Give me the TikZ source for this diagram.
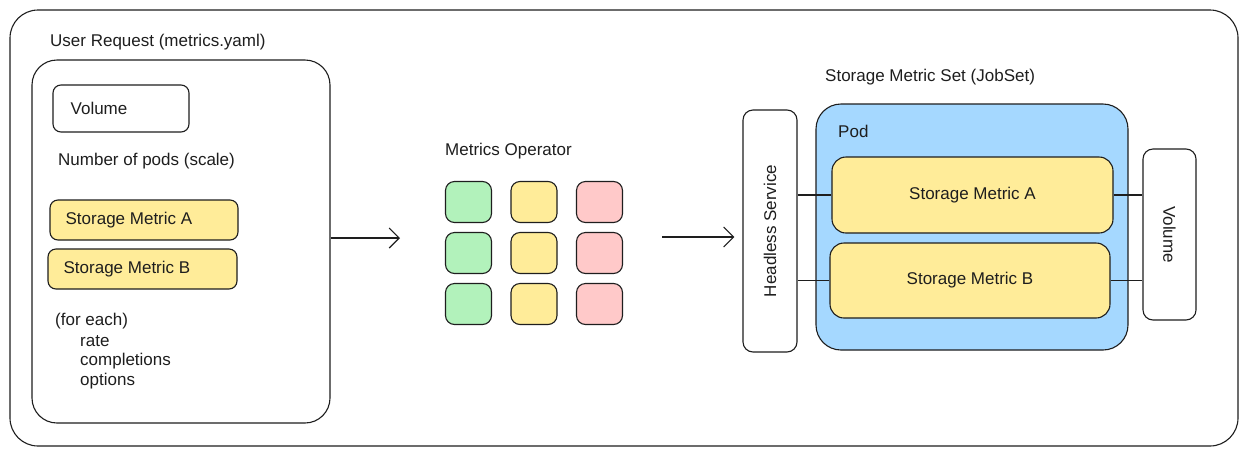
\documentclass[tikz,border=0pt]{standalone}
\usepackage{fontspec}
\setmainfont{Liberation Sans}
\usepackage{xcolor}
\usetikzlibrary{positioning, arrows.meta}
\definecolor{inkline}{HTML}{1E1E1E}
\definecolor{metricyellow}{HTML}{FFEC99}
\definecolor{opgreen}{HTML}{B2F2BB}
\definecolor{opred}{HTML}{FFC9C9}
\definecolor{podblue}{HTML}{A5D8FF}

\begin{document}
\begin{tikzpicture}[
		x=1pt, y=-1pt,
		font=\fontsize{17}{20}\selectfont,
		% Styles
		box/.style={rectangle, draw=inkline, line width=1.1pt, fill=white, rounded corners=8pt, inner sep=0pt, text=inkline},
		frame/.style={box, rounded corners=28pt},
		metric/.style={box, fill=metricyellow},
		cell/.style={box, minimum width=46pt, minimum height=41pt, rounded corners=9pt},
		label/.style={anchor=west, inner sep=0pt, text=inkline},
		arrow/.style={-{Straight Barb[length=10pt, width=20pt]}, draw=inkline, line width=1.1pt},
		link/.style={draw=inkline, line width=1.1pt}
	]
	\useasboundingbox (0,0) rectangle (1247,456);

	% --- Outer frame ---
	\node[frame, minimum width=1228pt, minimum height=436pt] (outer) at (624,228) {};

	% --- User request ---
	\node[label] (requesttitle) at (50,42) {User Request (metrics.yaml)};
	\node[box, rounded corners=25pt, minimum width=298pt, minimum height=363pt] (request) at (181,241.5) {};
	\node[box, minimum width=136pt, minimum height=47pt] (volume) at (121,108.5) {};
	\node[label, right=18pt of volume.west] {Volume};
	\node[label] (pods) at (58,161) {Number of pods (scale)};
	\node[metric, minimum width=188pt, minimum height=40pt] (reqA) at (144,220) {};
	\node[label, right=16pt of reqA.west] {Storage Metric A};
	\node[metric, minimum width=189pt, minimum height=40pt] (reqB) at (142.5,269) {};
	\node[label, right=16pt of reqB.west] {Storage Metric B};
	\node[label] (foreach) at (55,321) {(for each)};
	\node[label] (rate) at (80,341) {rate};
	\node[label] (completions) at (80,361) {completions};
	\node[label] (options) at (80,381) {options};

	% --- Metrics operator ---
	\node[label] (optitle) at (445,151) {Metrics Operator};
	\foreach \col/\colr [count=\i] in {0/opgreen, 1/metricyellow, 2/opred}
		\foreach \row in {0,1,2}
			\node[cell, fill=\colr] (cell-\i-\row) at (468.5+\col*65.5, 202+\row*51) {};

	% --- Storage metric set ---
	\node[label] (jobtitle) at (825,77) {Storage Metric Set (JobSet)};
	\node[box, rounded corners=10pt, minimum width=54pt, minimum height=242pt] (headless) at (770,231) {};
	\node[rotate=90, text=inkline] at (headless) {Headless Service};
	\node[box, fill=podblue, rounded corners=25pt, minimum width=312pt, minimum height=246pt] (pod) at (972,227) {};
	\node[label] (podtitle) at (838,131) {Pod};
	\node[metric, rounded corners=14pt, minimum width=281pt, minimum height=76pt] (jobA) at (972.5,195) {Storage Metric A};
	\node[metric, rounded corners=14pt, minimum width=280pt, minimum height=75pt] (jobB) at (970,280.5) {Storage Metric B};
	\node[box, rounded corners=10pt, minimum width=53pt, minimum height=171pt] (pvc) at (1169.5,234.5) {};
	\node[rotate=-90, text=inkline] at (pvc) {Volume};

	% --- ARROWS ---
	\coordinate (opin) at (400,238);
	\coordinate (opout) at (662,237);
	\draw[arrow] (request.east |- opin) -- (opin);
	\draw[arrow, shorten >=8pt] (opout) -- (headless.west |- opout);

	% Links inside the set
	\draw[link] (headless.east |- jobA) -- (jobA.west);
	\draw[link] (headless.east |- jobB) -- (jobB.west);
	\draw[link] (jobA.east) -- (pvc.west |- jobA);
	\draw[link] (jobB.east) -- (pvc.west |- jobB);

\end{tikzpicture}
\end{document}
